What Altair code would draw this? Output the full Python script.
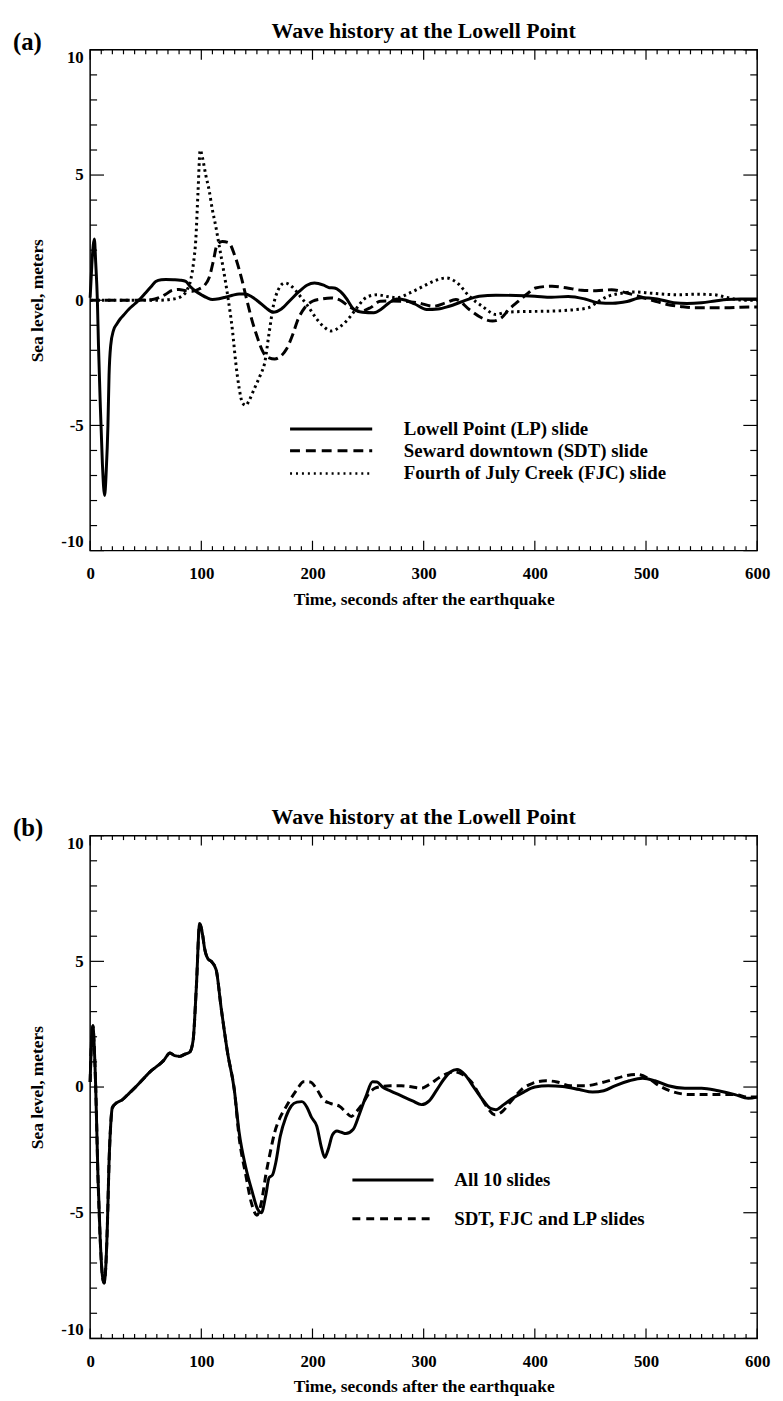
import altair as alt
import pandas as pd

FONT = "Liberation Serif"

title_text = "Wave history at the Lowell Point"
panel_tags = ["(a)", "(b)"]
x_title = "Time, seconds after the earthquake"
y_title = "Sea level, meters"
x_tick_labels = [0, 100, 200, 300, 400, 500, 600]
y_tick_labels = [-10, -5, 0, 5, 10]
x_minor_ticks = [t for t in range(0, 601, 10) if t % 100 != 0]
y_minor_ticks = [t for t in range(-10, 11) if t % 5 != 0]
legend_a = ["Lowell Point (LP) slide", "Seward downtown (SDT) slide", "Fourth of July Creek (FJC) slide"]
legend_b = ["All 10 slides", "SDT, FJC and LP slides"]

# ---------------- panel (a) ----------------
lp_t = [0, 1.5, 2.8, 3.8, 5, 6.5, 7.5, 9, 11, 13, 14.5, 16, 17, 18.5, 21, 24, 27, 30, 35, 40,
        44.5, 50, 55, 59, 64, 68, 75, 81, 86, 90, 95, 100, 105, 110, 116, 121.6, 128, 134, 139.5, 145,
        151, 158, 164.7, 172, 180, 188, 195, 201.8, 210, 215, 219.6, 225, 230, 237.4, 245, 255.2, 262, 269, 276, 284,
        292, 302.7, 313, 323, 335, 350, 365, 382.8, 400, 415, 430, 445, 457, 470, 483, 495.6, 510, 525, 537, 550,
        562, 572.6, 585, 600]
lp_v = [0.1, 1.4, 2.2, 2.45, 1.5, 0.0, -1.8, -4.0, -6.5, -7.8, -6.8, -5.0, -3.0, -1.8, -1.2, -0.95, -0.75, -0.6, -0.35, -0.15,
        0.03, 0.3, 0.55, 0.75, 0.82, 0.83, 0.82, 0.8, 0.75, 0.55, 0.36, 0.22, 0.1, 0.03, 0.06, 0.12, 0.2, 0.25, 0.25, 0.15,
        -0.04, -0.3, -0.48, -0.35, 0.0, 0.35, 0.6, 0.69, 0.6, 0.5, 0.49, 0.35, 0.1, -0.37, -0.48, -0.5, -0.35, -0.1, 0.05, 0.0,
        -0.15, -0.37, -0.35, -0.24, -0.05, 0.16, 0.2, 0.19, 0.16, 0.12, 0.15, 0.05, -0.1, -0.12, -0.05, 0.1, 0.05, -0.1, -0.13, -0.1,
        -0.03, 0.03, 0.05, 0.05]

sdt_t = [0, 20, 40, 55, 62, 68, 74, 80, 86, 92, 98, 103, 107, 111, 114, 119, 124.6, 130, 136.5, 141,
         145.4, 150, 155.8, 161, 166, 171, 176.5, 182, 187, 193, 200, 208, 216.6, 225, 233, 243, 252, 261, 270, 282,
         295, 308.6, 320, 329, 341, 352, 362, 370, 376.6, 385, 393, 400.6, 415.5, 428, 442, 455, 469, 482, 495.6, 507,
         519, 531, 543, 558, 572, 585, 600]
sdt_v = [0, 0, 0, 0.02, 0.1, 0.24, 0.4, 0.43, 0.38, 0.36, 0.45, 0.6, 0.9, 1.6, 2.2, 2.35, 2.3, 1.8, 0.82, 0.0,
         -0.77, -1.43, -2.09, -2.3, -2.35, -2.25, -1.96, -1.4, -0.76, -0.3, -0.04, 0.05, 0.09, 0.0, -0.25, -0.44, -0.3, -0.04, -0.03, -0.04,
         -0.1, -0.24, -0.1, 0.03, -0.37, -0.7, -0.83, -0.7, -0.37, -0.05, 0.25, 0.49, 0.56, 0.5, 0.4, 0.38, 0.42, 0.3, 0.13, -0.02,
         -0.17, -0.25, -0.3, -0.3, -0.3, -0.28, -0.27]

fjc_t = [0, 30, 60, 75, 82, 87, 90.5, 93, 95, 97, 99, 101, 104, 107, 110, 112.8, 116, 120, 124, 128,
         131, 134, 137, 140, 143, 148, 153, 157, 161, 164.7, 169, 175, 180, 184, 190, 196, 203, 210, 216.6, 225,
         234.4, 240, 246, 252, 258, 267, 276, 288, 299.7, 310, 320.5, 330, 341, 353, 365, 374, 390, 409.5, 430, 448,
         457, 466, 478, 489.6, 505, 528, 545, 561, 572, 581.6, 590, 600]
fjc_v = [0, 0, 0, 0.05, 0.15, 0.4, 0.82, 1.5, 2.4, 4.3, 6.0, 5.7, 5.0, 4.4, 3.6, 3.0, 2.2, 1.2, 0.1, -1.2,
         -2.5, -3.5, -4.1, -4.2, -4.0, -3.5, -3.0, -2.5, -1.3, -0.24, 0.4, 0.69, 0.6, 0.43, 0.1, -0.24, -0.7, -1.05, -1.23, -1.05,
         -0.63, -0.3, 0.03, 0.18, 0.22, 0.15, 0.1, 0.3, 0.56, 0.78, 0.89, 0.7, 0.16, -0.25, -0.57, -0.48, -0.45, -0.44, -0.4, -0.3,
         -0.05, 0.16, 0.28, 0.33, 0.28, 0.22, 0.24, 0.22, 0.12, 0.03, 0.0, 0.0]

# ---------------- panel (b) ----------------
# common early part (both curves coincide)
bc_t = [0, 1.2, 2.5, 3.5, 5, 7, 9, 11, 12.5, 14, 15.5, 17, 18.5, 19.9, 24, 28.8, 35, 42, 49.6, 55,
        61.4, 66, 71.8, 76, 80.7, 85, 89.6, 92.6, 95.5, 98.5, 101, 103, 106, 108.9, 113.3, 117.8, 123.7, 129.7]
bc_v = [0.2, 1.8, 2.44, 1.8, 0.0, -3.5, -6.0, -7.5, -7.8, -7.2, -5.5, -3.0, -1.5, -0.83, -0.62, -0.51, -0.25, 0.05, 0.41, 0.65,
        0.87, 1.05, 1.35, 1.25, 1.22, 1.3, 1.39, 1.85, 3.95, 6.5, 6.1, 5.5, 5.1, 5.0, 4.67, 3.16, 1.34, -0.12]

all_t = [134, 140, 146, 150, 154, 158, 161, 164, 167, 171, 176, 181, 186, 190.5, 195, 199, 203.9, 208, 211, 214,
         218, 222, 226, 230, 236.5, 242, 248, 254, 258, 263, 270, 280, 290, 298, 305, 312, 318, 324, 330, 337,
         345, 353, 360, 365, 372, 380, 390, 400, 412, 425, 440, 452, 462, 472, 485, 497, 508, 520, 535, 550,
         565, 580, 592, 600]
all_v = [-1.8, -3.2, -4.2, -4.8, -5.0, -4.3, -3.6, -3.5, -3.0, -1.96, -1.2, -0.75, -0.6, -0.58, -0.8, -1.2, -1.56, -2.4, -2.8, -2.5,
         -1.9, -1.75, -1.8, -1.85, -1.69, -1.1, -0.38, 0.21, 0.2, 0.0, -0.15, -0.35, -0.55, -0.7, -0.55, -0.1, 0.3, 0.6, 0.7, 0.5,
         0.0, -0.5, -0.85, -0.9, -0.7, -0.45, -0.2, 0.0, 0.05, 0.02, -0.1, -0.2, -0.15, 0.05, 0.25, 0.35, 0.25, 0.05, -0.05, -0.05,
         -0.15, -0.3, -0.45, -0.4]

sub_t = [134, 140, 145, 150, 154, 158, 162, 166, 171, 176, 180, 186, 192, 198, 204, 209.8, 216, 224.6, 230, 235,
         240, 245.4, 250, 256, 262, 270, 280, 290, 298, 305, 315, 322, 328, 335, 343, 350, 357, 364, 370, 378,
         388, 398, 410, 420, 432, 445, 458, 470, 482, 492, 502, 512, 525, 540, 560, 580, 592, 600]
sub_v = [-2.0, -3.5, -4.6, -5.1, -4.6, -3.5, -2.6, -1.8, -1.2, -0.8, -0.5, -0.1, 0.21, 0.2, -0.1, -0.51, -0.65, -0.77, -1.0, -1.17,
         -0.95, -0.64, -0.3, -0.05, 0.02, 0.05, 0.05, 0.0, -0.05, 0.1, 0.4, 0.55, 0.6, 0.5, 0.2, -0.3, -0.8, -1.1, -1.0, -0.6,
         -0.1, 0.15, 0.25, 0.2, 0.05, 0.05, 0.15, 0.3, 0.45, 0.5, 0.35, 0.05, -0.2, -0.3, -0.3, -0.3, -0.4, -0.4]

W = 674
H_A = 506
H_B = 508

SOLID = dict(strokeWidth=3)
DASHED = dict(strokeWidth=3, strokeDash=[10, 5])
DOTTED = dict(strokeWidth=3, strokeDash=[2.5, 3.5])


def make_panel(series, legend_labels, legend_styles, H, tag, leg):
    xs = alt.Scale(domain=[0, 600], nice=False, zero=False)
    ys = alt.Scale(domain=[-10, 10], nice=False, zero=False)
    common = dict(ticks=False, tickSize=0, domain=False, grid=False,
                  labelFont=FONT, labelFontSize=17, labelFontWeight="bold", labelColor="black",
                  labelOverlap=False, labelExpr="'' + datum.value",
                  titleFont=FONT, titleFontSize=17.6, titleFontWeight="bold", titleColor="black",
                  titleBaseline="middle", titleAlign="center")
    xaxis = alt.Axis(values=x_tick_labels, labelPadding=15, labelFlush=False,
                     title=x_title, titleX=W / 2, titleY=49, **common)
    yaxis = alt.Axis(values=y_tick_labels, labelPadding=7, labelFlush=True, labelFlushOffset=0,
                     title=y_title, titleX=-53, titleY=H / 2, titleAngle=270, **common)

    def X(field):
        return alt.X(field, scale=xs, axis=xaxis)

    def Y(field):
        return alt.Y(field, scale=ys, axis=yaxis)

    layers = []
    for t, v, style in series:
        df = pd.DataFrame({"t": t, "v": v})
        layers.append(
            alt.Chart(df).mark_line(color="black", interpolate="monotone", strokeCap="butt", **style).encode(
                x=X("t:Q"), y=Y("v:Q"))
        )

    # inward ticks on all four sides
    for ticks, L in [(x_tick_labels, 10), (x_minor_ticks, 4.5)]:
        df = pd.DataFrame({"t": ticks})
        layers.append(alt.Chart(df).mark_rule(color="black", strokeWidth=1.2).encode(
            x=X("t:Q"), y=alt.value(H), y2=alt.value(H - L)))
        layers.append(alt.Chart(df).mark_rule(color="black", strokeWidth=1.2).encode(
            x=X("t:Q"), y=alt.value(0), y2=alt.value(L)))
    for ticks, L in [(y_tick_labels, 14), (y_minor_ticks, 7)]:
        df = pd.DataFrame({"v": ticks})
        layers.append(alt.Chart(df).mark_rule(color="black", strokeWidth=1.2).encode(
            y=Y("v:Q"), x=alt.value(0), x2=alt.value(L)))
        layers.append(alt.Chart(df).mark_rule(color="black", strokeWidth=1.2).encode(
            y=Y("v:Q"), x=alt.value(W), x2=alt.value(W - L)))

    # legend drawn inside the plot
    for lab, style, ly in zip(legend_labels, legend_styles, leg["rows"]):
        df = pd.DataFrame({"label": [lab]})
        layers.append(alt.Chart(df).mark_rule(color="black", strokeCap="butt", **style).encode(
            x=alt.value(leg["x0"]), x2=alt.value(leg["x1"]), y=alt.value(ly)))
        layers.append(alt.Chart(df).mark_text(font=FONT, fontSize=19, fontWeight="bold", color="black",
                                              align="left", baseline="middle").encode(
            text="label:N", x=alt.value(leg["tx"]), y=alt.value(ly)))

    # title and panel tag
    layers.append(alt.Chart(pd.DataFrame({"label": [title_text]})).mark_text(
        font=FONT, fontSize=22, fontWeight="bold", color="black", align="center", baseline="middle").encode(
        text="label:N", x=alt.value(W / 2), y=alt.value(-18.5)))
    layers.append(alt.Chart(pd.DataFrame({"label": [tag]})).mark_text(
        font=FONT, fontSize=25, fontWeight="bold", color="black", align="left", baseline="middle").encode(
        text="label:N", x=alt.value(-78), y=alt.value(-8)))

    return alt.layer(*layers).properties(width=W, height=H)


panel_a = make_panel(
    [(lp_t, lp_v, SOLID), (sdt_t, sdt_v, DASHED), (fjc_t, fjc_v, DOTTED)],
    legend_a,
    [dict(strokeWidth=3), dict(strokeWidth=3, strokeDash=[10, 6]), dict(strokeWidth=2.5, strokeDash=[2, 4])],
    H_A, panel_tags[0],
    dict(x0=202, x1=285, tx=317, rows=[383, 405, 428]),
)

panel_b = make_panel(
    [(bc_t + all_t, bc_v + all_v, SOLID), (bc_t + sub_t, bc_v + sub_v, dict(strokeWidth=3, strokeDash=[8, 5]))],
    legend_b,
    [dict(strokeWidth=3), dict(strokeWidth=3, strokeDash=[8, 6])],
    H_B, panel_tags[1],
    dict(x0=265, x1=347, tx=368, rows=[348, 387]),
)

chart = alt.vconcat(panel_a, panel_b, spacing=198).properties(
    padding={"left": 4, "top": 4, "right": 4, "bottom": 2}
).configure_view(stroke="black", strokeWidth=1.5)

chart.save("out.html", embed_options={"renderer": "svg", "actions": False})
